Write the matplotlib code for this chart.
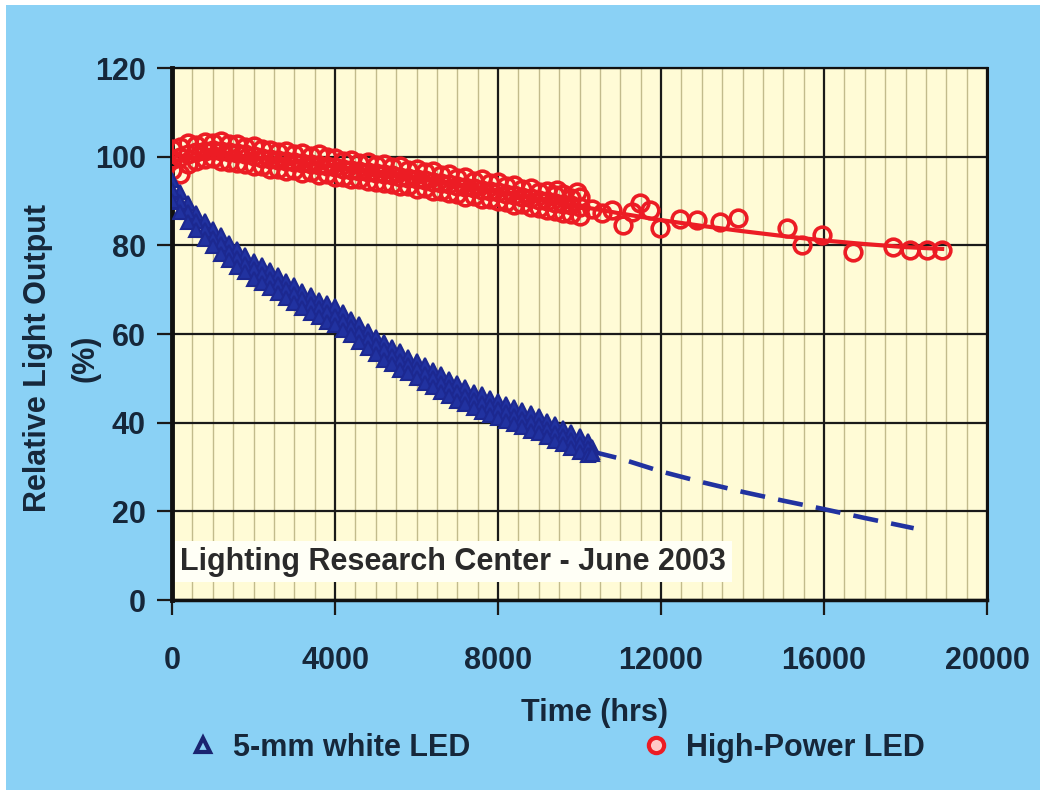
import matplotlib
matplotlib.use('Agg')
import matplotlib.pyplot as plt
from matplotlib.lines import Line2D
from matplotlib.patches import Rectangle
from matplotlib.ticker import MultipleLocator

plt.rcParams['font.family'] = ['Liberation Sans', 'DejaVu Sans']
plt.rcParams['font.weight'] = 'bold'
plt.rcParams['axes.labelweight'] = 'bold'

# 5-mm white LED, read as top / middle / bottom of the band of triangles
blue_hours = [0, 200, 400, 600, 800, 1000, 1200, 1400, 1600, 1800,
              2000, 2200, 2400, 2600, 2800, 3000, 3200, 3400, 3600, 3800,
              4000, 4200, 4400, 4600, 4800, 5000, 5200, 5400, 5600, 5800,
              6000, 6200, 6400, 6600, 6800, 7000, 7200, 7400, 7600, 7800,
              8000, 8200, 8400, 8600, 8800, 9000, 9200, 9400, 9600, 9800,
              10000, 10200, 10300]
blue_upper = [94.8, 92.0, 89.6, 87.4, 85.6, 83.6, 82.3, 80.5, 79.2, 77.9,
              76.5, 75.6, 74.4, 73.4, 72.0, 71.1, 69.8, 68.9, 67.7, 67.0,
              66.3, 65.0, 63.5, 62.3, 60.6, 59.4, 58.3, 57.0, 56.1, 54.9,
              54.0, 53.1, 51.8, 51.0, 49.9, 49.0, 48.1, 47.0, 46.4, 45.6,
              45.0, 44.2, 43.6, 42.8, 42.1, 41.4, 40.4, 39.6, 38.7, 37.9,
              37.0, 35.9, 34.6]
blue_middle = [92.5, 89.8, 87.5, 85.5, 83.5, 81.7, 80.2, 78.6, 77.2, 75.8,
               74.6, 73.5, 72.5, 71.3, 70.1, 69.0, 67.9, 66.8, 65.8, 64.9,
               64.0, 63.0, 61.6, 60.2, 58.8, 57.5, 56.3, 55.1, 54.0, 53.0,
               52.0, 51.0, 50.0, 49.0, 48.0, 47.0, 46.1, 45.2, 44.4, 43.7,
               43.0, 42.3, 41.6, 40.9, 40.2, 39.5, 38.5, 37.7, 36.9, 36.0,
               35.2, 34.2, 33.5]
blue_lower = [90.0, 87.6, 85.3, 83.5, 81.4, 79.8, 78.1, 76.7, 75.1, 73.9,
              72.5, 71.6, 70.4, 69.3, 68.2, 66.9, 65.9, 64.7, 63.9, 62.8,
              62.1, 60.9, 59.7, 58.1, 56.9, 55.6, 54.2, 53.2, 51.9, 51.1,
              50.0, 48.9, 48.1, 47.0, 46.1, 45.0, 44.2, 43.3, 42.4, 41.8,
              41.0, 40.4, 39.6, 39.0, 38.2, 37.6, 36.7, 35.8, 35.1, 34.2,
              33.5, 32.6, 33.0]

# dashed extrapolation of the 5-mm LED
blue_fit_hours = [10300, 11000, 12000, 13000, 14000, 15000, 16000, 17000, 18200]
blue_fit = [33.5, 31.9, 29.0, 26.6, 24.4, 22.4, 20.5, 18.5, 16.2]

# High-Power LED, dense part read as top / middle / bottom of the band of circles
red_hours = [0, 200, 400, 600, 800, 1000, 1200, 1400, 1600, 1800,
             2000, 2200, 2400, 2600, 2800, 3000, 3200, 3400, 3600, 3800,
             4000, 4200, 4400, 4600, 4800, 5000, 5200, 5400, 5600, 5800,
             6000, 6200, 6400, 6600, 6800, 7000, 7200, 7400, 7600, 7800,
             8000, 8200, 8400, 8600, 8800, 9000, 9200, 9400, 9600, 9800,
             10000]
red_upper = [101.8, 102.3, 103.0, 102.6, 103.4, 103.2, 103.5, 102.8, 102.9, 102.3,
             102.4, 101.7, 101.6, 101.0, 101.2, 100.6, 100.9, 100.2, 100.5, 99.9,
             99.8, 99.1, 99.3, 98.6, 98.9, 98.1, 98.3, 97.6, 97.8, 97.0,
             97.2, 96.5, 96.7, 95.9, 96.1, 95.3, 95.5, 94.6, 94.9, 94.0,
             94.3, 93.4, 93.6, 92.7, 93.0, 92.0, 92.3, 91.4, 91.6, 90.7,
             90.9]
red_middle = [99.5, 100.0, 100.5, 101.0, 101.3, 101.5, 101.3, 101.0, 100.8, 100.5,
              100.2, 99.8, 99.5, 99.3, 99.0, 98.8, 98.6, 98.4, 98.2, 98.0,
              97.6, 97.3, 97.0, 96.8, 96.6, 96.3, 96.0, 95.8, 95.5, 95.2,
              95.0, 94.7, 94.4, 94.1, 93.8, 93.5, 93.2, 92.9, 92.6, 92.3,
              92.0, 91.6, 91.3, 91.0, 90.6, 90.3, 90.0, 89.6, 89.3, 89.0,
              88.6]
red_lower = [97.0, 96.2, 98.4, 99.0, 99.4, 99.6, 99.0, 98.9, 98.6, 98.3,
             97.9, 97.8, 97.3, 97.2, 96.7, 96.9, 96.4, 96.5, 95.9, 96.1,
             95.4, 95.5, 94.9, 95.0, 94.6, 94.3, 94.1, 93.8, 93.4, 93.3,
             92.8, 92.9, 92.2, 92.3, 91.7, 91.6, 91.0, 91.1, 90.5, 90.4,
             89.9, 89.8, 89.2, 89.3, 88.6, 88.5, 88.0, 87.8, 87.2, 87.1,
             86.6]
red_sparse_hours = [9450, 9940, 10300, 10550, 10800, 11070, 11300, 11490, 11730,
                    11980, 12470, 12880, 13450, 13890, 15090, 15460, 15950,
                    16710, 17690, 18110, 18530, 18900]
red_sparse = [92.5, 92.0, 88.3, 87.2, 88.0, 84.6, 87.5, 89.5, 88.0,
              84.0, 86.0, 85.7, 85.3, 86.2, 83.9, 80.0, 82.3,
              78.5, 79.6, 79.0, 79.0, 79.0]

# red trend line
red_fit_hours = [0, 1000, 2000, 3000, 4000, 5000, 6000, 7000, 8000, 9000,
                 10000, 11000, 12000, 13000, 14000, 15000, 16000, 17000, 18000, 18900]
red_fit = [99.0, 100.5, 99.8, 98.8, 97.8, 96.6, 95.3, 93.8, 92.2, 90.5,
           88.8, 87.2, 85.7, 84.4, 83.2, 82.1, 81.1, 80.3, 79.6, 79.2]

x_ticks = [0, 4000, 8000, 12000, 16000, 20000]
y_ticks = [0, 20, 40, 60, 80, 100, 120]

blue = '#2132a0'
red = '#ec1c24'
ink = '#16273a'

fig = plt.figure(figsize=(10.44, 7.92), dpi=100, facecolor='white')
fig.add_artist(Rectangle((0.006, 0.003), 0.99, 0.991, transform=fig.transFigure,
                         facecolor='#8ad1f5', edgecolor='none', zorder=-5))

ax = fig.add_axes([0.1648, 0.2424, 0.7806, 0.6717])
ax.set_facecolor('#fffbd6')

ax.plot(red_fit_hours, red_fit, color=red, lw=3, zorder=3)
ax.plot(red_hours * 3 + red_sparse_hours, red_upper + red_middle + red_lower + red_sparse,
        ls='none', marker='o', ms=12, mfc='none', mec=red, mew=2.6, zorder=4)

ax.plot(blue_fit_hours, blue_fit, color=blue, lw=3.3, dashes=(5.5, 2.9), zorder=3)
ax.plot(blue_hours * 3, blue_upper + blue_middle + blue_lower,
        ls='none', marker='^', ms=10, mfc=blue, mec='#1c2890', mew=1.5, zorder=5)

ax.set_xlim(0, 20000)
ax.set_ylim(0, 120)
ax.set_xticks(x_ticks)
ax.set_yticks(y_ticks)
ax.xaxis.set_minor_locator(MultipleLocator(500))
ax.grid(which='major', axis='both', color='#1a1a1a', lw=1.6, zorder=1)
ax.grid(which='minor', axis='x', color='#c2bb8c', lw=1.0, zorder=0.5)
ax.set_axisbelow(True)

ax.tick_params(axis='both', which='major', direction='out', length=11, width=1.6,
               color='#1a1a1a', labelsize=22, labelcolor=ink)
ax.tick_params(axis='x', which='major', pad=22)
ax.tick_params(axis='y', which='major', pad=8)
ax.tick_params(which='minor', length=0)

for side, lw in [('left', 3.5), ('bottom', 2.5), ('top', 1.6), ('right', 2.2)]:
    ax.spines[side].set_linewidth(lw)
    ax.spines[side].set_color('#111111')

ax.set_xlabel('Time (hrs)', fontsize=22, color=ink)
ax.xaxis.set_label_coords(0.518, -0.185)
ax.set_ylabel('Relative Light Output\n(%)', fontsize=22, color=ink, linespacing=1.75)
ax.yaxis.set_label_coords(-0.088, 0.455)

ax.text(200, 8.6, 'Lighting Research Center - June 2003', fontsize=22,
        color='#2a2a2a', va='center', ha='left', zorder=6,
        bbox=dict(boxstyle='square,pad=0.18', facecolor='#fffff6', edgecolor='none'))

handles = [Line2D([], [], marker='^', ls='none', ms=10, mfc='none', mec='#1a2470', mew=3),
           Line2D([], [], marker='o', ls='none', ms=11, mfc='#ffc8c8', mec=red, mew=3)]
fig.legend(handles, ['5-mm white LED', 'High-Power LED'], ncol=2, loc='center left',
           bbox_to_anchor=(0.168, 0.056), frameon=False, fontsize=22, labelcolor=ink,
           handlelength=0.8, handletextpad=0.6, columnspacing=5.65, borderpad=0)

fig.savefig('out.png', dpi=100, facecolor=fig.get_facecolor())
